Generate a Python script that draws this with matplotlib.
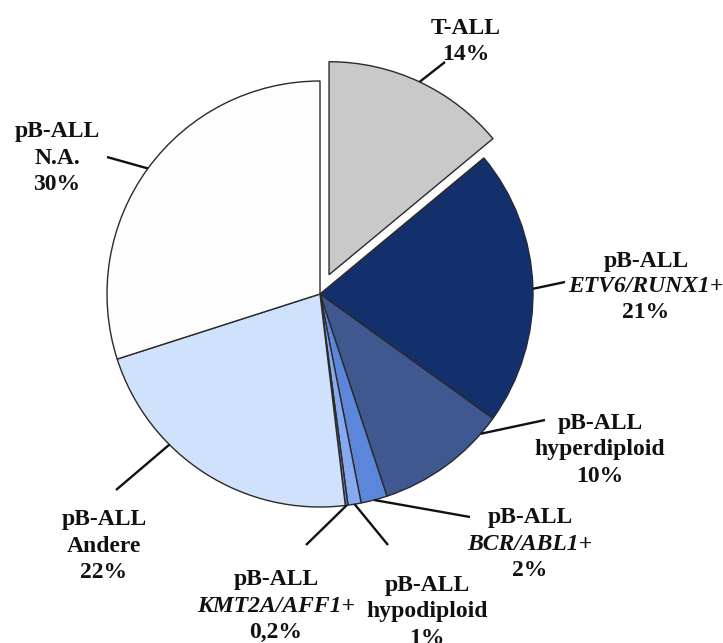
import numpy as np
import matplotlib
matplotlib.use("Agg")
import matplotlib.pyplot as plt

# ---- data ----
categories = ["T-ALL", "ETV6/RUNX1+", "hyperdiploid", "BCR/ABL1+",
              "hypodiploid", "KMT2A/AFF1+", "Andere", "N.A."]
percent = [14, 21, 10, 2, 1, 0.2, 22, 30]
pct_labels = ["14%", "21%", "10%", "2%", "1%", "0,2%", "22%", "30%"]
prefix = ["", "pB-ALL", "pB-ALL", "pB-ALL", "pB-ALL", "pB-ALL", "pB-ALL", "pB-ALL"]
italic = [False, True, False, True, False, True, False, False]
colors = ["#c9c9c9", "#14306c", "#3f5890", "#5b86da", "#86aaf2",
          "#5b7fd0", "#cfe1fb", "#fdfdfd"]
explode = [0.1, 0, 0, 0, 0, 0, 0, 0]

# ---- layout (pixels in a 723x643 canvas) ----
W, H = 723, 643
CX, CY, R = 320, 294, 213
label_xy = [(466, 28), (646, 261), (600, 424), (530, 518),
            (427, 586), (276, 580), (104, 520), (57, 132)]
line_gap = 26
# leader: angle on the rim (deg, None = wedge middle), end point (px)
leader_angle = [None, 1.4, -41, None, None, None, -135, None]
leader_end = [(445, 62), (565, 282), (545, 420), (470, 517),
              (388, 545), (306, 545), (116, 490), (107, 157)]

fig = plt.figure(figsize=(W / 100, H / 100), dpi=100)
ax = fig.add_axes([0, 0, 1, 1])

wedges, _ = ax.pie(percent, colors=colors, explode=explode, startangle=90,
                   counterclock=False, radius=1,
                   wedgeprops=dict(edgecolor="#2a2a2a", linewidth=1.0))
ax.set_xlim(-CX / R, (W - CX) / R)
ax.set_ylim(-(H - CY) / R, CY / R)
ax.set_aspect("equal")
ax.axis("off")

def px2d(px, py):
    return (px - CX) / R, (CY - py) / R

font = dict(family=["Liberation Serif", "DejaVu Serif"], weight="bold",
            fontsize=17, color="#111111")

for i, w in enumerate(wedges):
    th = leader_angle[i]
    if th is None:
        th = (w.theta1 + w.theta2) / 2
    cx, cy = w.center
    sx = cx + w.r * np.cos(np.deg2rad(th))
    sy = cy + w.r * np.sin(np.deg2rad(th))
    ex, ey = px2d(*leader_end[i])
    ax.plot([sx, ex], [sy, ey], color="#111111", lw=1.7, solid_capstyle="butt")

    lx, ly = label_xy[i]
    lines = []
    if prefix[i]:
        lines.append((prefix[i], "normal"))
    lines.append((categories[i], "italic" if italic[i] else "normal"))
    lines.append((pct_labels[i], "normal"))
    for k, (txt, st) in enumerate(lines):
        x, y = px2d(lx, ly + k * line_gap)
        ax.text(x, y, txt, ha="center", va="center", style=st, **font)

fig.savefig("out.png", dpi=100)
